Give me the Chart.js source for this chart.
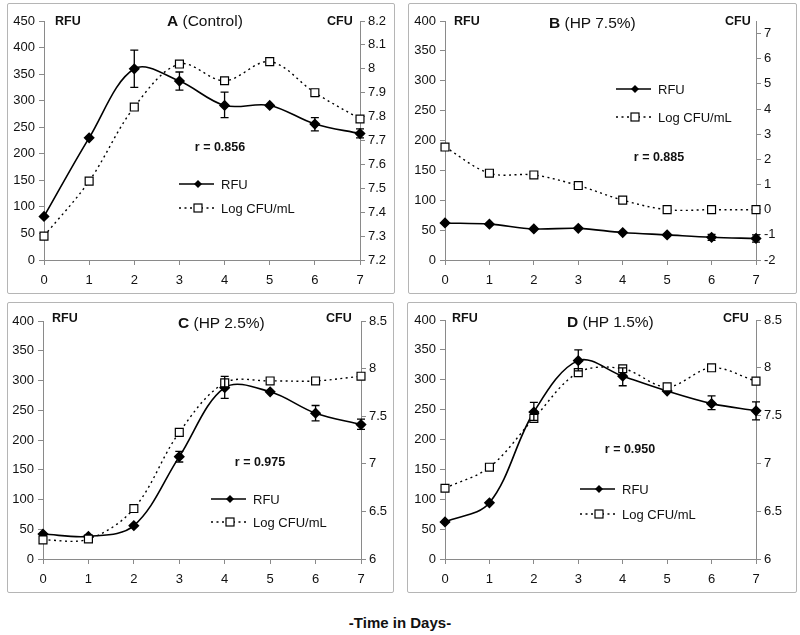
<!DOCTYPE html>
<html><head><meta charset="utf-8">
<script src="https://cdn.jsdelivr.net/npm/chart.js@4.4.1/dist/chart.umd.min.js"></script>
<style>
body{margin:0;background:#fff;width:800px;height:635px;position:relative;overflow:hidden;font-family:'Liberation Sans',Arial,sans-serif;color:#111}
.box{position:absolute;border:1px solid #b5b5b5;box-sizing:border-box;border-radius:2px}
canvas{position:absolute}
.t{position:absolute;white-space:nowrap;line-height:1;transform:translateY(-50%)}
.b{font-weight:bold}
.title{font-size:15.5px}
.ax{font-size:12.5px;font-weight:bold}
.r{font-size:12.5px;font-weight:bold;transform:translate(-50%,-50%)}
.lg{font-size:13px}
svg.m{position:absolute;overflow:visible}
</style></head><body>
<script>
// ---------------- DATA ----------------
const days = ['0','1','2','3','4','5','6','7'];

const rfuA    = [82, 230, 360, 337, 291, 291, 256, 238];
const rfuLoA  = [null, null, 325, 320, 268, null, 243, 230];
const rfuHiA  = [null, null, 395, 354, 316, null, 268, 247];
const cfuA    = [7.30, 7.53, 7.84, 8.02, 7.95, 8.03, 7.90, 7.79];

const rfuB    = [62, 60, 52, 53, 46, 42, 38, 36];
const rfuLoB  = [null, null, null, null, null, null, 33, 30];
const rfuHiB  = [null, null, null, null, null, null, 43, 42];
const cfuB    = [2.49, 1.45, 1.38, 0.96, 0.38, 0.0, 0.0, 0.0];

const rfuC    = [42, 38, 56, 172, 288, 281, 245, 226];
const rfuLoC  = [null, null, null, 163, 270, null, 232, 218];
const rfuHiC  = [null, null, null, 181, 307, null, 258, 235];
const cfuC    = [6.20, 6.21, 6.53, 7.33, 7.85, 7.87, 7.87, 7.92];

const rfuD    = [62, 94, 246, 332, 306, 281, 260, 248];
const rfuLoD  = [null, null, 232, 315, 290, null, 250, 233];
const rfuHiD  = [null, null, 262, 350, 320, null, 273, 263];
const cfuD    = [6.74, 6.96, 7.47, 7.95, 7.99, 7.80, 8.00, 7.86];

const leftTicks450 = [0, 50, 100, 150, 200, 250, 300, 350, 400, 450];
const leftTicks400 = [0, 50, 100, 150, 200, 250, 300, 350, 400];
const rightTicksA  = [7.2, 7.3, 7.4, 7.5, 7.6, 7.7, 7.8, 7.9, 8, 8.1, 8.2];
const rightTicksB  = [-2, -1, 0, 1, 2, 3, 4, 5, 6, 7];
const rightTicksCD = [6, 6.5, 7, 7.5, 8, 8.5];

const titles   = ['A', 'B', 'C', 'D'];
const subtitles= ['(Control)', '(HP 7.5%)', '(HP 2.5%)', '(HP 1.5%)'];
const rValues  = ['r = 0.856', 'r = 0.885', 'r = 0.975', 'r = 0.950'];
const seriesNames = ['RFU', 'Log CFU/mL'];
const xTitle = '-Time in Days-';

// ---------------- LAYOUT ----------------
const panels = [
  {box:[7,3,395,294],   plot:[44,21,360,260],  rfu:rfuA, lo:rfuLoA, hi:rfuHiA, cfu:cfuA,
   lt:leftTicks450, yMax:450, rt:rightTicksA, y2:[7.2,8.2],
   title:[167,21], rfuLbl:[55,21], cfuLbl:[327,21], r:[220,147], leg:[179,184,208]},
  {box:[408,3,797,294], plot:[445,21,756,260], rfu:rfuB, lo:rfuLoB, hi:rfuHiB, cfu:cfuB,
   lt:leftTicks400, yMax:400, rt:rightTicksB, y2:[-2,7.5],
   title:[549,23], rfuLbl:[454,21], cfuLbl:[725,21], r:[659,157], leg:[616,89,117]},
  {box:[7,302,394,593], plot:[43,321,361,559], rfu:rfuC, lo:rfuLoC, hi:rfuHiC, cfu:cfuC,
   lt:leftTicks400, yMax:400, rt:rightTicksCD, y2:[6,8.5],
   title:[178,323], rfuLbl:[52,318], cfuLbl:[326,318], r:[260,462], leg:[211,499,522]},
  {box:[407,302,797,593], plot:[445,320,756,559], rfu:rfuD, lo:rfuLoD, hi:rfuHiD, cfu:cfuD,
   lt:leftTicks400, yMax:400, rt:rightTicksCD, y2:[6,8.5],
   title:[567,322], rfuLbl:[452,318], cfuLbl:[723,318], r:[630,449], leg:[580,489,514]}
];

Chart.defaults.font.family = "'Liberation Sans', Arial, sans-serif";
Chart.defaults.font.size = 13;
Chart.defaults.color = '#111';

function el(tag, cls, css, txt){
  const e = document.createElement(tag);
  if (cls) e.className = cls;
  Object.assign(e.style, css||{});
  if (txt != null) e.textContent = txt;
  document.body.appendChild(e);
  return e;
}

function errPlugin(lo, hi){
  return {id:'errbars', afterDatasetsDraw(chart){
    const x = chart.scales.x, y = chart.scales.y, ctx = chart.ctx;
    ctx.save(); ctx.strokeStyle = '#000'; ctx.lineWidth = 1.3;
    lo.forEach((l,i)=>{
      if (l == null) return;
      const px = x.getPixelForValue(i);
      const y1 = y.getPixelForValue(l), y2 = y.getPixelForValue(hi[i]);
      ctx.beginPath();
      ctx.moveTo(px,y1); ctx.lineTo(px,y2);
      ctx.moveTo(px-4,y1); ctx.lineTo(px+4,y1);
      ctx.moveTo(px-4,y2); ctx.lineTo(px+4,y2);
      ctx.stroke();
    });
    ctx.restore();
  }};
}

const axisColor = '#8a8a8a';

panels.forEach((p, idx)=>{
  const [bx0,by0,bx1,by1] = p.box;
  const [L,T,R,B] = p.plot;
  el('div','box',{left:bx0+'px',top:by0+'px',width:(bx1-bx0)+'px',height:(by1-by0)+'px'});
  const cx = bx0+1, cy = by0+1, cw = bx1-bx0-2, ch = by1-by0-2;
  const cv = document.createElement('canvas');
  cv.width = cw; cv.height = ch;
  cv.style.left = cx+'px'; cv.style.top = cy+'px';
  document.body.appendChild(cv);
  const leftW = L - cx, rightW = (cx+cw) - R, topPad = T - cy, botH = (cy+ch) - B;

  new Chart(cv, {
    type:'line',
    data:{labels:days, datasets:[
      {label:seriesNames[1], data:p.cfu, yAxisID:'y1', borderColor:'#000', borderWidth:1.4,
       borderDash:[2,3.5], pointStyle:'rect', pointRadius:5.6, pointBackgroundColor:'#fff',
       pointBorderColor:'#000', pointBorderWidth:1.2, tension:0.35, fill:false},
      {label:seriesNames[0], data:p.rfu, yAxisID:'y', borderColor:'#000', borderWidth:1.6,
       pointStyle:'rectRot', pointRadius:4.5, pointBackgroundColor:'#000', pointBorderColor:'#000',
       tension:0.35, fill:false}
    ]},
    options:{
      responsive:false, animation:false, devicePixelRatio:1,
      layout:{padding:{top:topPad, left:0, right:0, bottom:0}},
      plugins:{legend:{display:false}, tooltip:{enabled:false}},
      scales:{
        x:{type:'category', offset:false,
           grid:{display:true, drawOnChartArea:false, drawTicks:true, tickLength:5, color:axisColor, offset:false},
           border:{display:true, color:axisColor, width:1},
           ticks:{padding:8, maxRotation:0, autoSkip:false, font:{size:13}, color:'#111'},
           afterFit(s){ s.height = botH; }},
        y:{type:'linear', position:'left', min:0, max:p.yMax,
           grid:{display:true, drawOnChartArea:false, drawTicks:true, tickLength:5, color:axisColor},
           border:{display:true, color:axisColor, width:1},
           ticks:{padding:4, font:{size:13}, color:'#111', callback:v=>String(v)},
           afterBuildTicks(s){ s.ticks = p.lt.map(v=>({value:v})); },
           afterFit(s){ s.width = leftW; }},
        y1:{type:'linear', position:'right', min:p.y2[0], max:p.y2[1],
           grid:{display:true, drawOnChartArea:false, drawTicks:true, tickLength:5, color:axisColor},
           border:{display:true, color:axisColor, width:1},
           ticks:{padding:3, font:{size:13}, color:'#111', callback:v=>String(Math.round(v*100)/100)},
           afterBuildTicks(s){ s.ticks = p.rt.map(v=>({value:v})); },
           afterFit(s){ s.width = rightW; }}
      }
    },
    plugins:[errPlugin(p.lo, p.hi)]
  });

  // title
  const t = el('div','t title',{left:p.title[0]+'px', top:p.title[1]+'px'});
  const tb = document.createElement('b'); tb.textContent = titles[idx]; t.appendChild(tb);
  t.appendChild(document.createTextNode(' ' + subtitles[idx]));
  el('div','t ax',{left:p.rfuLbl[0]+'px', top:p.rfuLbl[1]+'px'}, 'RFU');
  el('div','t ax',{left:p.cfuLbl[0]+'px', top:p.cfuLbl[1]+'px'}, 'CFU');
  el('div','t r',{left:p.r[0]+'px', top:p.r[1]+'px'}, rValues[idx]);

  // legend
  const [lx, ly1, ly2] = p.leg;
  const ns = 'http://www.w3.org/2000/svg';
  function legSvg(y, solid){
    const s = document.createElementNS(ns,'svg');
    s.setAttribute('class','m'); s.setAttribute('width','36'); s.setAttribute('height','12');
    s.style.left = lx+'px'; s.style.top = (y-6)+'px';
    s.innerHTML = solid
      ? '<line x1="0" y1="6" x2="35" y2="6" stroke="#000" stroke-width="1.6"/><polygon points="19,2 23,6 19,10 15,6" fill="#000"/>'
      : '<line x1="0" y1="6" x2="35" y2="6" stroke="#000" stroke-width="1.4" stroke-dasharray="2,3.5"/><rect x="15" y="2" width="8" height="8" fill="#fff" stroke="#000" stroke-width="1.2"/>';
    document.body.appendChild(s);
  }
  legSvg(ly1, true); legSvg(ly2, false);
  el('div','t lg',{left:(lx+42)+'px', top:ly1+'px'}, seriesNames[0]);
  el('div','t lg',{left:(lx+42)+'px', top:ly2+'px'}, seriesNames[1]);
});

el('div','t',{left:'400px', top:'622px', transform:'translate(-50%,-50%)', fontSize:'15px', fontWeight:'bold'}, xTitle);
</script>
</body></html>
